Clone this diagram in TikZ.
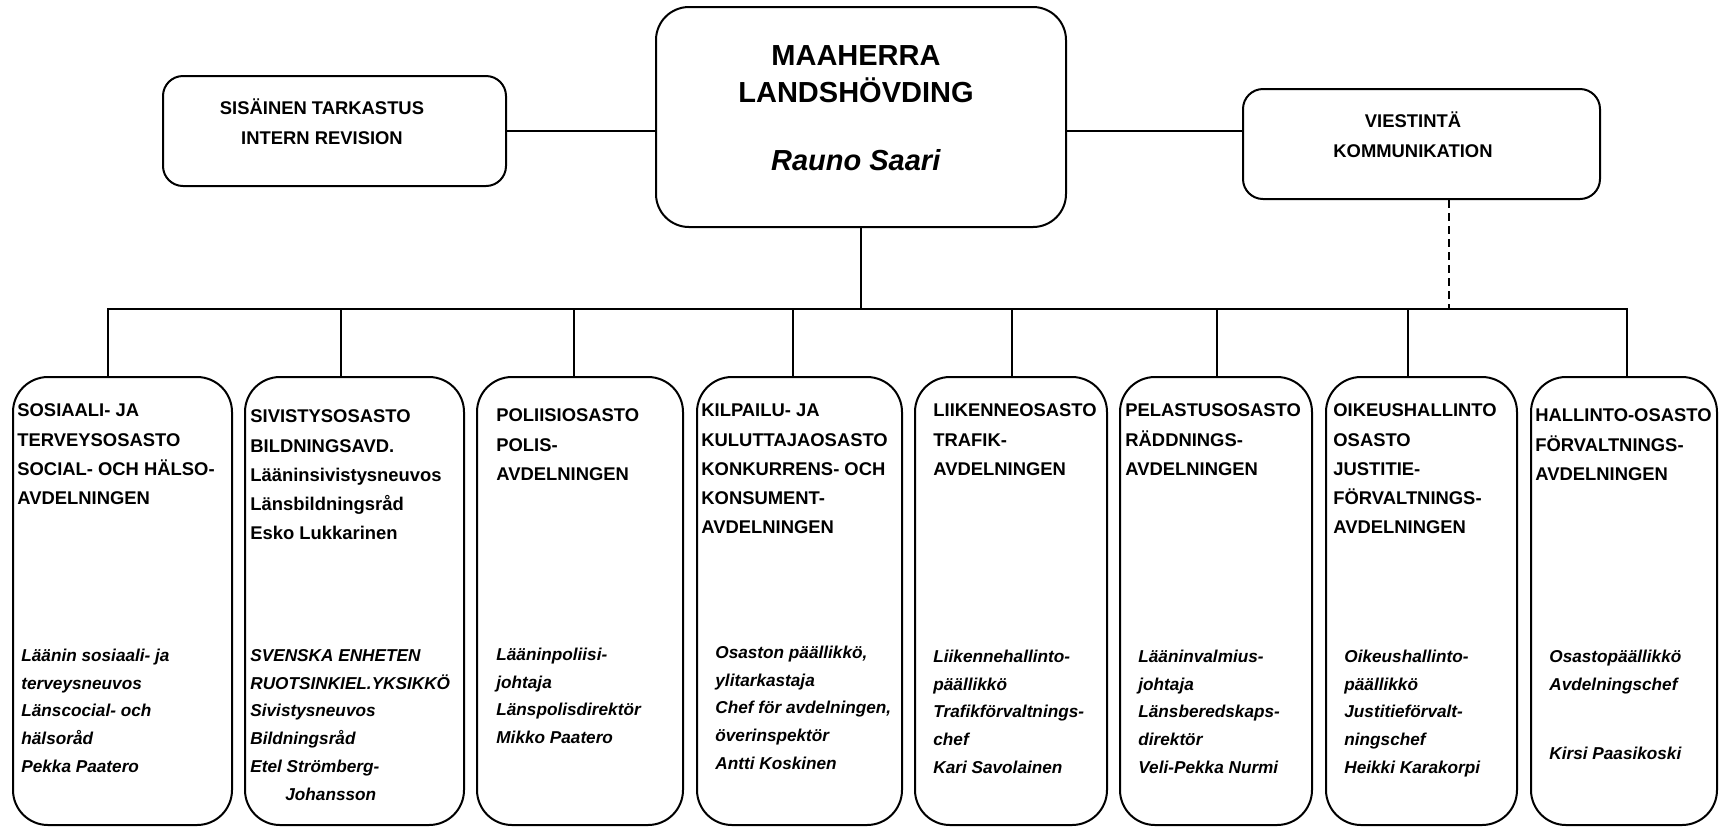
\documentclass[tikz,border=0pt]{standalone}
\usepackage{fontspec}
\setmainfont{Liberation Sans}
\usepackage{tikz}
\tikzstyle{boss}     = [draw, line width=1pt, rounded corners=16.5pt, minimum width=205pt, minimum height=110pt, inner sep=0pt]
\tikzstyle{unit}     = [draw, line width=1pt, rounded corners=10pt, minimum height=55pt, inner sep=0pt]
\tikzstyle{dept}     = [draw, line width=1pt, rounded corners=17.5pt, minimum height=224pt, inner sep=0pt]
\tikzstyle{title}    = [anchor=north, inner sep=0pt, align=center, font=\fontsize{14.5}{16.75}\selectfont\bfseries]
\tikzstyle{unitname} = [anchor=north, inner sep=0pt, align=center, font=\fontsize{9.2}{15}\selectfont\bfseries]
\tikzstyle{head}     = [anchor=north west, inner sep=0pt, align=left, font=\fontsize{9.2}{14.6}\selectfont\bfseries]
\tikzstyle{staff}    = [anchor=north west, inner sep=0pt, align=left, font=\fontsize{8.6}{13.9}\selectfont\bfseries\itshape]
\tikzstyle{link}     = [line width=1pt]
\begin{document}
\begin{tikzpicture}[x=0.5pt, y=-0.5pt]
		\useasboundingbox (0,0) rectangle (1720,827);

		\node[boss] (boss) at (861,117) {};
		\node[unit, minimum width=171.5pt] (audit) at (334.5,131) {};
		\node[unit, minimum width=178.5pt] (comm) at (1421.5,144) {};

		\node[title] (bossname) at (856,42) {\strut MAAHERRA\\LANDSHÖVDING\\[17pt]\textit{Rauno Saari}};
		\node[unitname] (auditname) at (322,93.5) {\strut SISÄINEN TARKASTUS\\INTERN REVISION};
		\node[unitname] (commname) at (1413,106.5) {\strut VIESTINTÄ\\KOMMUNIKATION};

		\node[dept, minimum width=109.5pt] (d1) at (122.5,601) {};
		\node[dept, minimum width=109.5pt] (d2) at (354.5,601) {};
		\node[dept, minimum width=103pt] (d3) at (580,601) {};
		\node[dept, minimum width=102.5pt] (d4) at (799.5,601) {};
		\node[dept, minimum width=96pt] (d5) at (1011,601) {};
		\node[dept, minimum width=96pt] (d6) at (1216,601) {};
		\node[dept, minimum width=95.5pt] (d7) at (1421.5,601) {};
		\node[dept, minimum width=93pt] (d8) at (1624,601) {};

		\node[head] (d1head) at (17,396) {\strut SOSIAALI- JA\\TERVEYSOSASTO\\SOCIAL- OCH HÄLSO-\\AVDELNINGEN};
		\node[head] (d2head) at (250,402) {\strut SIVISTYSOSASTO\\BILDNINGSAVD.\\Lääninsivistysneuvos\\Länsbildningsråd\\Esko Lukkarinen};
		\node[head] (d3head) at (496,401) {\strut POLIISIOSASTO\\POLIS-\\AVDELNINGEN};
		\node[head] (d4head) at (701,396) {\strut KILPAILU- JA\\KULUTTAJAOSASTO\\KONKURRENS- OCH\\KONSUMENT-\\AVDELNINGEN};
		\node[head] (d5head) at (933,396) {\strut LIIKENNEOSASTO\\TRAFIK-\\AVDELNINGEN};
		\node[head] (d6head) at (1125,396) {\strut PELASTUSOSASTO\\RÄDDNINGS-\\AVDELNINGEN};
		\node[head] (d7head) at (1333,396) {\strut OIKEUSHALLINTO\\OSASTO\\JUSTITIE-\\FÖRVALTNINGS-\\AVDELNINGEN};
		\node[head] (d8head) at (1535,401) {\strut HALLINTO-OSASTO\\FÖRVALTNINGS-\\AVDELNINGEN};

		\node[staff] (d1staff) at (21,641.5) {\strut Läänin sosiaali- ja\\terveysneuvos\\Länscocial- och\\hälsoråd\\Pekka Paatero};
		\node[staff] (d2staff) at (250,641.5) {\strut SVENSKA ENHETEN\\RUOTSINKIEL.YKSIKKÖ\\Sivistysneuvos\\Bildningsråd\\Etel Strömberg-\\\hspace*{17.5pt}Johansson};
		\node[staff] (d3staff) at (496,640.5) {\strut Lääninpoliisi-\\johtaja\\Länspolisdirektör\\Mikko Paatero};
		\node[staff] (d4staff) at (715,638.5) {\strut Osaston päällikkö,\\ylitarkastaja\\Chef för avdelningen,\\överinspektör\\Antti Koskinen};
		\node[staff] (d5staff) at (933,642.5) {\strut Liikennehallinto-\\päällikkö\\Trafikförvaltnings-\\chef\\Kari Savolainen};
		\node[staff] (d6staff) at (1138,642.5) {\strut Lääninvalmius-\\johtaja\\Länsberedskaps-\\direktör\\Veli-Pekka Nurmi};
		\node[staff] (d7staff) at (1344,642.5) {\strut Oikeushallinto-\\päällikkö\\Justitieförvalt-\\ningschef\\Heikki Karakorpi};
		\node[staff] (d8staff) at (1549,642.5) {\strut Osastopäällikkö\\Avdelningschef\\[20.6pt]Kirsi Paasikoski};

		\coordinate (t1) at (108,309);
		\coordinate (t2) at (341,309);
		\coordinate (t3) at (574,309);
		\coordinate (t4) at (793,309);
		\coordinate (t5) at (1012,309);
		\coordinate (t6) at (1217,309);
		\coordinate (t7) at (1408,309);
		\coordinate (t8) at (1627,309);
		\coordinate (c1) at (1449,309);

		\draw[link] (audit.east) -- (audit.east -| boss.west);
		\draw[link] (audit.east -| boss.east) -- (audit.east -| comm.west);
		\draw[link] (boss.south) -- (boss.south |- t1);
		\draw[link] (t1 |- d1.north) -- (t1) -- (t8) -- (t8 |- d8.north);
		\foreach \i in {2,...,7}
			\draw[link] (t\i) -- (t\i |- d\i.north);
		\draw[link, dash pattern=on 4pt off 2.5pt] (c1 |- comm.south) -- (c1);
\end{tikzpicture}
\end{document}
